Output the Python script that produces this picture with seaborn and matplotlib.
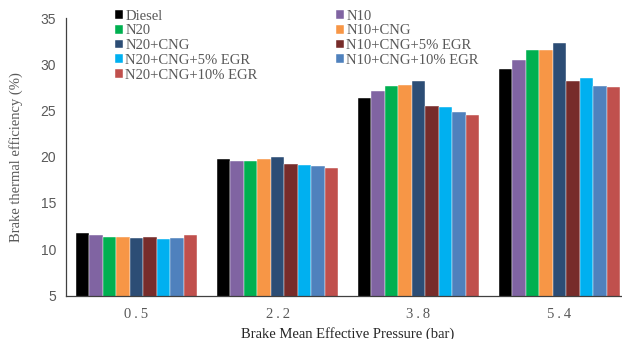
import numpy as np
import pandas as pd
import matplotlib
matplotlib.use("Agg")
import matplotlib.pyplot as plt
import seaborn as sns
from matplotlib.ticker import FixedLocator

# ---- data ----
pressures = ["0.5", "2.2", "3.8", "5.4"]
tick_labels = ["0\u2009.\u20095", "2\u2009.\u20092", "3\u2009.\u20098", "5\u2009.\u20094"]
fuels = ["Diesel", "N10", "N20", "N10+CNG", "N20+CNG",
         "N10+CNG+5% EGR", "N20+CNG+5% EGR", "N10+CNG+10% EGR", "N20+CNG+10% EGR"]
diesel = [11.75, 19.8, 26.35, 29.45]
n10 = [11.5, 19.55, 27.1, 30.45]
n20 = [11.35, 19.55, 27.65, 31.55]
n10_cng = [11.35, 19.8, 27.8, 31.55]
n20_cng = [11.25, 19.95, 28.2, 32.35]
n10_cng_5egr = [11.35, 19.2, 25.5, 28.2]
n20_cng_5egr = [11.1, 19.1, 25.35, 28.55]
n10_cng_10egr = [11.25, 18.95, 24.8, 27.7]
n20_cng_10egr = [11.5, 18.75, 24.5, 27.55]
series = [diesel, n10, n20, n10_cng, n20_cng, n10_cng_5egr,
          n20_cng_5egr, n10_cng_10egr, n20_cng_10egr]
colors = ["#000000", "#8064A2", "#00B050", "#F79646", "#2C4D75",
          "#772C2A", "#00B0F0", "#4F81BD", "#C0504D"]

rows = []
for f, vals in zip(fuels, series):
    for p, v in zip(pressures, vals):
        rows.append({"pressure": p, "bte": v, "fuel": f})
df = pd.DataFrame(rows)

# ---- figure ----
sns.set_style("white")
plt.rcParams["font.family"] = ["Liberation Serif", "DejaVu Sans"]
W, H = 622, 339
fig = plt.figure(figsize=(W / 100, H / 100), dpi=100)
ax = fig.add_axes([66 / W, (H - 295.5) / H, 564 / W, 277.5 / H])

sns.barplot(data=df, x="pressure", y="bte", hue="fuel", order=pressures,
            hue_order=fuels, palette=colors, width=0.865, ax=ax,
            edgecolor="white", linewidth=0.3, saturation=1, legend=True)

grey = "#595959"
ax.set_ylim(5, 35)
ax.set_xlim(-0.5, 3.5)
ax.set_yticks([5, 10, 15, 20, 25, 30, 35])
ax.set_yticklabels(["5", "10", "15", "20", "25", "30", "35"],
                   family="Liberation Sans", fontsize=10, color=grey)
ax.set_xticks(range(len(pressures)))
ax.set_xticklabels(tick_labels, fontsize=10.5, color=grey)
ax.xaxis.set_minor_locator(FixedLocator([-0.5, 0.5, 1.5, 2.5, 3.5]))
ax.tick_params(axis="x", which="major", length=0, pad=9)
ax.tick_params(axis="x", which="minor", length=4, width=0.8, color="#404040", direction="out")
ax.tick_params(axis="y", length=4, width=0.8, color="#404040", direction="out", pad=3)

for s in ["top", "right"]:
    ax.spines[s].set_visible(False)
for s in ["left", "bottom"]:
    ax.spines[s].set_color("#404040")
    ax.spines[s].set_linewidth(0.9)

ax.set_ylabel("Brake thermal efficiency (%)", fontsize=10.5, color=grey, labelpad=13)
ax.set_xlabel("Brake Mean Effective Pressure (bar)", fontsize=10.5, color="#262626", labelpad=4)

handles, labels = ax.get_legend_handles_labels()
order = [0, 2, 4, 6, 8, 1, 3, 5, 7]
leg = ax.legend([handles[i] for i in order], [labels[i] for i in order],
                ncol=2, frameon=False, fontsize=10.5, loc="upper left",
                bbox_to_anchor=(49 / 564, 1.03), handlelength=0.55, handleheight=0.55,
                handletextpad=0.15, labelspacing=0.12, columnspacing=5.4,
                borderaxespad=0, borderpad=0)
for t in leg.get_texts():
    t.set_color(grey)

fig.savefig("out.png", dpi=100)
